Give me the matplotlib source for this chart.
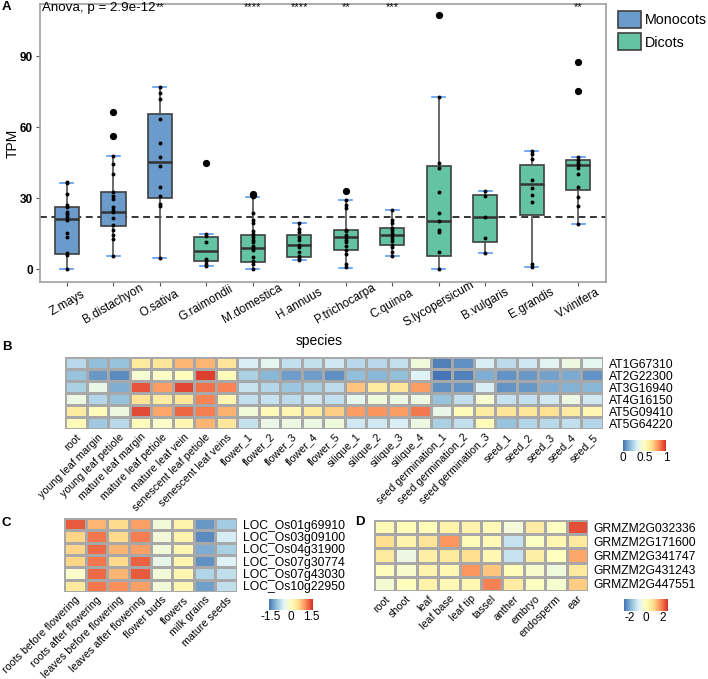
import matplotlib
matplotlib.use("Agg")
import numpy as np
import matplotlib.pyplot as plt
from matplotlib.colors import LinearSegmentedColormap
from matplotlib.patches import Patch

plt.rcParams["font.family"] = ["Liberation Sans", "DejaVu Sans"]
plt.rcParams["axes.unicode_minus"] = False

W, H = 708, 679

# ── Panel A data (TPM per species) ──
species = ["Z.mays", "B.distachyon", "O.sativa", "G.raimondii", "M.domestica", "H.annuus",
           "P.trichocarpa", "C.quinoa", "S.lycopersicum", "B.vulgaris", "E.grandis", "V.vinifera"]
groups = ["Monocots"] * 3 + ["Dicots"] * 9
sig_labels = ["", "", "**", "", "****", "****", "**", "***", "", "", "", "**"]
q1 = [6.5, 18.4, 30.0, 3.4, 3.2, 5.1, 8.0, 10.3, 5.5, 11.5, 22.8, 33.6]
med = [21.1, 24.3, 45.5, 7.9, 9.0, 10.1, 13.6, 14.5, 20.4, 22.1, 36.2, 43.9]
q3 = [26.5, 32.8, 65.5, 13.6, 14.4, 14.4, 16.7, 17.3, 43.5, 31.5, 43.9, 46.3]
whis_lo = [0.0, 5.7, 4.9, 1.5, 0.0, 3.8, 0.7, 5.5, 0.1, 7.0, 1.0, 19.1]
whis_hi = [36.6, 47.7, 76.9, 14.9, 30.7, 19.7, 29.4, 25.2, 72.9, 32.9, 50.1, 47.4]
outliers = [[], [56.4, 66.5], [], [44.8], [31.5, 32.0], [], [33.1], [], [107.4], [], [], [75.5, 87.7]]
tpm_points = [
    [0, 6.0, 6.8, 13.8, 15.2, 21.0, 22.0, 23.3, 24.0, 26.3, 27.3, 31.8, 36.4, 37.0],
    [5.7, 12.8, 14.5, 16.5, 18.6, 21.5, 24.3, 25.0, 26.5, 29.5, 31.0, 32.8, 40.1, 44.3, 47.7, 56.4, 66.5],
    [4.9, 26.9, 27.5, 31.1, 34.8, 43.8, 47.3, 53.5, 63.4, 72.1, 74.6, 76.9],
    [1.5, 2.3, 3.5, 4.2, 11.5, 14.0, 14.9, 44.8],
    [0, 2.3, 3.3, 5.3, 8.0, 9.0, 9.8, 11.5, 12.5, 13.5, 15.0, 16.2, 19.6, 21.0, 23.9, 30.7, 31.5, 32.0],
    [3.8, 4.6, 5.7, 7.1, 9.6, 10.1, 12.4, 13.5, 15.6, 17.2, 19.7],
    [0.8, 2.2, 6.3, 8.0, 10.0, 11.5, 12.5, 13.6, 14.5, 16.0, 16.7, 26.0, 27.0, 29.4, 33.1],
    [5.5, 7.3, 9.2, 10.3, 12.0, 13.2, 14.5, 15.5, 16.5, 17.3, 19.4, 21.0, 25.2],
    [0.2, 7.4, 15.6, 16.6, 20.4, 23.8, 32.5, 42.9, 44.8, 72.9, 107.4],
    [7.0, 13.1, 22.1, 31.0, 32.9],
    [1.0, 2.4, 28.6, 31.4, 34.5, 37.7, 46.6, 48.7, 50.1],
    [19.1, 26.6, 30.5, 34.9, 40.3, 42.7, 43.9, 45.0, 46.3, 47.4, 75.5, 87.7],
]
mean_tpm = 22.2
group_colors = {"Monocots": "#6A9BCB", "Dicots": "#63C3A2"}

# ── Panel B data (Arabidopsis, scaled 0-1) ──
b_samples = ["root", "young leaf margin", "young leaf petiole", "mature leaf margin", "mature leaf petiole",
             "mature leaf vein", "senescent leaf petiole", "senescent leaf veins",
             "flower_1", "flower_2", "flower_3", "flower_4", "flower_5",
             "silique_1", "silique_2", "silique_3", "silique_4",
             "seed germination_1", "seed germination_2", "seed germination_3",
             "seed_1", "seed_2", "seed_3", "seed_4", "seed_5"]
b_genes = ["AT1G67310", "AT2G22300", "AT3G16940", "AT4G16150", "AT5G09410", "AT5G64220"]
b_at1g67310 = [0.25, 0.17, 0.18, 0.62, 0.64, 0.75, 0.75, 0.64, 0.32, 0.36, 0.27, 0.27, 0.30,
               0.25, 0.25, 0.27, 0.42, 0.03, 0.06, 0.32, 0.26, 0.30, 0.35, 0.40, 0.36]
b_at2g22300 = [0.18, 0.08, 0.05, 0.45, 0.48, 0.50, 0.97, 0.52, 0.22, 0.15, 0.09, 0.09, 0.06,
               0.17, 0.15, 0.17, 0.33, 0.00, 0.03, 0.13, 0.07, 0.08, 0.10, 0.12, 0.07]
b_at3g16940 = [0.22, 0.38, 0.13, 0.93, 0.80, 0.96, 0.88, 0.85, 0.28, 0.24, 0.19, 0.22, 0.26,
               0.72, 0.60, 0.63, 0.80, 0.06, 0.07, 0.32, 0.07, 0.08, 0.13, 0.14, 0.15]
b_at4g16150 = [0.40, 0.24, 0.18, 0.65, 0.60, 0.64, 0.85, 0.55, 0.27, 0.28, 0.26, 0.30, 0.27,
               0.37, 0.42, 0.40, 0.40, 0.18, 0.27, 0.45, 0.28, 0.27, 0.30, 0.40, 0.30]
b_at5g09410 = [0.60, 0.52, 0.40, 0.95, 0.78, 0.90, 0.86, 0.76, 0.42, 0.53, 0.55, 0.60, 0.70,
               0.80, 0.82, 0.80, 0.87, 0.38, 0.52, 0.60, 0.64, 0.63, 0.66, 0.60, 0.54]
b_at5g64220 = [0.53, 0.20, 0.25, 0.52, 0.47, 0.55, 0.75, 0.63, 0.28, 0.38, 0.40, 0.40, 0.42,
               0.30, 0.30, 0.32, 0.40, 0.22, 0.27, 0.52, 0.18, 0.24, 0.25, 0.27, 0.24]

# ── Panel C data (rice, z-score) ──
c_samples = ["roots before flowering", "roots after flowering", "leaves before flowering",
             "leaves after flowering", "flower buds", "flowers", "milk grains", "mature seeds"]
c_genes = ["LOC_Os01g69910", "LOC_Os03g09100", "LOC_Os04g31900",
           "LOC_Os07g30774", "LOC_Os07g43030", "LOC_Os10g22950"]
c_os01g69910 = [1.35, 0.80, 0.55, 0.95, -0.25, 0.20, -1.35, -0.95]
c_os03g09100 = [0.60, 1.20, 0.55, 1.15, -0.25, 0.20, -1.45, -0.60]
c_os04g31900 = [0.60, 1.25, 0.80, 0.95, -0.25, 0.15, -1.20, -0.90]
c_os07g30774 = [0.60, 1.20, 0.55, 1.30, -0.40, 0.15, -1.40, -0.55]
c_os07g43030 = [-0.10, 1.25, 0.80, 1.35, -0.25, 0.15, -0.85, -0.75]
c_os10g22950 = [0.35, 1.20, 1.05, 0.95, -0.25, 0.15, -1.30, -0.75]

# ── Panel D data (maize, z-score) ──
d_samples = ["root", "shoot", "leaf", "leaf base", "leaf tip", "tassel", "anther", "embryo", "endosperm", "ear"]
d_genes = ["GRMZM2G032336", "GRMZM2G171600", "GRMZM2G341747", "GRMZM2G431243", "GRMZM2G447551"]
d_g032336 = [0.20, 0.10, 0.10, 0.40, 0.35, 0.15, -0.40, 0.55, -0.05, 2.40]
d_g171600 = [0.90, 0.35, 0.75, 1.70, 0.10, 0.15, -1.20, -0.05, 0.25, 0.60]
d_g341747 = [0.60, -0.55, 0.45, 0.65, 0.90, 0.20, -1.20, 0.45, 0.00, 1.50]
d_g431243 = [0.05, -0.20, 0.35, 0.20, 1.70, 1.20, 0.10, -0.25, -0.45, 0.60]
d_g447551 = [-0.30, 0.00, 0.40, 0.20, 0.25, 1.90, 0.55, -0.05, -0.25, 1.10]

cmap = LinearSegmentedColormap.from_list(
    "rdylbu_r", ["#4575B4", "#91BFDB", "#E0F3F8", "#FFFFBF", "#FEE090", "#FC8D59", "#D73027"])

fig = plt.figure(figsize=(W / 100, H / 100), dpi=100)


def px_axes(x0, y0, x1, y1):
    return fig.add_axes([x0 / W, 1 - y1 / H, (x1 - x0) / W, (y1 - y0) / H])


# ── Panel A: boxplots ──
ax = px_axes(40, 4, 606, 282)
pos = np.arange(1, len(species) + 1)
stats = [dict(q1=q1[i], med=med[i], q3=q3[i], whislo=whis_lo[i], whishi=whis_hi[i],
              fliers=outliers[i], label=species[i]) for i in range(len(species))]
bp = ax.bxp(stats, positions=pos, widths=0.52, capwidths=0.28, patch_artist=True,
            boxprops=dict(edgecolor="#404040", linewidth=1.2),
            medianprops=dict(color="#333333", linewidth=1.8),
            whiskerprops=dict(color="#505050", linewidth=1.2),
            capprops=dict(color="#5B9BF5", linewidth=1.2),
            flierprops=dict(marker="o", markerfacecolor="black", markeredgecolor="black", markersize=4.2))
for patch, g in zip(bp["boxes"], groups):
    patch.set_facecolor(group_colors[g])
for i, pts in enumerate(tpm_points):
    ax.scatter(np.full(len(pts), pos[i]), pts, s=8, color="black", zorder=4, linewidths=0)
ax.axhline(mean_tpm, color="black", linestyle=(0, (4.5, 3)), linewidth=1.1, zorder=1)
for i, s in enumerate(sig_labels):
    if s:
        ax.text(pos[i], 110.8, s, ha="center", va="center", fontsize=8)
ax.text(0.47, 110.5, "Anova, p = 2.9e-12", ha="left", va="center", fontsize=9.6)
ax.set_xlim(0.42, 12.6)
ax.set_ylim(-5.4, 112.1)
ax.set_yticks([0, 30, 60, 90])
ax.set_xticks(pos)
ax.set_xticklabels(species, rotation=30, ha="center", va="center", rotation_mode="anchor", fontsize=8.5)
ax.tick_params(axis="x", length=3, pad=12.5, color="#555555")
ax.tick_params(axis="y", length=3, pad=2, color="#555555", labelsize=8.5)
for lab in ax.get_yticklabels():
    lab.set_fontweight("bold")
for sp in ax.spines.values():
    sp.set_color("#A0A0A0")
    sp.set_linewidth(1.2)
fig.text(319.5 / W, 1 - 341 / H, "species", ha="center", va="center", fontsize=10)
fig.text(12.5 / W, 1 - 143 / H, "TPM", ha="center", va="center", rotation=90, fontsize=10)

handles = [Patch(facecolor=group_colors[g], edgecolor="#404040", linewidth=1.2) for g in ["Monocots", "Dicots"]]
fig.legend(handles, ["Monocots", "Dicots"], loc="upper left", bbox_to_anchor=(612 / W, 1 - 5 / H),
           frameon=False, fontsize=10.3, handlelength=1.65, handleheight=1.45,
           handletextpad=0.25, labelspacing=0.4, borderaxespad=0)


# ── Heatmap helper ──
def heatmap(box, data, rows, cols, vmin, vmax, cbar_box, cbar_ticks, cbar_labels):
    hax = px_axes(*box)
    hax.pcolormesh(np.array(data), cmap=cmap, vmin=vmin, vmax=vmax,
                   edgecolors="#A8A8A8", linewidth=0.9)
    hax.set_xlim(0, len(cols))
    hax.set_ylim(len(rows), 0)
    hax.set_xticks(np.arange(len(cols)) + 0.5)
    hax.set_xticklabels(cols, rotation=45, ha="right", va="top", rotation_mode="anchor", fontsize=7.7)
    hax.set_yticks(np.arange(len(rows)) + 0.5)
    hax.set_yticklabels(rows, fontsize=8.7)
    hax.yaxis.tick_right()
    hax.tick_params(axis="both", length=0)
    hax.tick_params(axis="x", pad=2)
    hax.tick_params(axis="y", pad=4)
    for sp in hax.spines.values():
        sp.set_visible(False)
    cax = px_axes(*cbar_box)
    grad = np.linspace(vmin, vmax, 200)[None, :]
    cax.imshow(grad, cmap=cmap, vmin=vmin, vmax=vmax, aspect="auto",
               extent=[vmin, vmax, 0, 1])
    cax.set_yticks([])
    cax.set_xticks(cbar_ticks)
    cax.set_xticklabels(cbar_labels, fontsize=8.5)
    cax.tick_params(axis="x", length=0, pad=1)
    for sp in cax.spines.values():
        sp.set_visible(False)
    return hax


# ── Panel B ──
b_data = [b_at1g67310, b_at2g22300, b_at3g16940, b_at4g16150, b_at5g09410, b_at5g64220]
heatmap((65, 357, 603, 429), b_data, b_genes, b_samples, 0, 1,
        (623, 440, 666, 451), [0, 0.5, 1], ["0", "0.5", "1"])

# ── Panel C ──
c_data = [c_os01g69910, c_os03g09100, c_os04g31900, c_os07g30774, c_os07g43030, c_os10g22950]
heatmap((64, 518, 237, 592), c_data, c_genes, c_samples, -1.6, 1.6,
        (269, 599, 313, 610), [-1.5, 0, 1.5], ["-1.5", "0", "1.5"])

# ── Panel D ──
d_data = [d_g032336, d_g171600, d_g341747, d_g431243, d_g447551]
heatmap((374, 520, 588, 591), d_data, d_genes, d_samples, -2.7, 2.7,
        (624, 599, 668, 611), [-2, 0, 2], ["-2", "0", "2"])

# panel letters
for letter, x, y in [("A", 2, 1), ("B", 2, 341), ("C", 2, 517), ("D", 355, 516)]:
    fig.text(x / W, 1 - y / H, letter, ha="left", va="top", fontsize=9.5, fontweight="bold")

plt.savefig("out.png", dpi=100)
